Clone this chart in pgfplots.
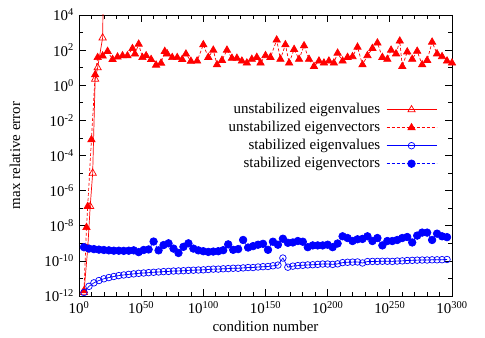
\documentclass[border=0pt]{standalone}
\usepackage{fontspec}
\setmainfont{Liberation Serif}
\usepackage{pgfplots}
\pgfplotsset{compat=1.18}

\begin{document}
\fontsize{15}{18}\selectfont
\begin{tikzpicture}
\path[use as bounding box] (-79bp,-42bp) rectangle (406bp,296bp);
\begin{axis}[
    scale only axis,
    width=373bp, height=281bp,
    xmode=log, ymode=log,
    xmin=1, xmax=1e300,
    ymin=1e-12, ymax=1e4,
    xtick={1,1e50,1e100,1e150,1e200,1e250,1e300},
    xticklabels={10\textsuperscript{0},10\textsuperscript{50},10\textsuperscript{100},10\textsuperscript{150},10\textsuperscript{200},10\textsuperscript{250},10\textsuperscript{300}},
    minor xtick={1e10,1e20,1e30,1e40,1e60,1e70,1e80,1e90,1e110,1e120,1e130,1e140,1e160,1e170,1e180,1e190,1e210,1e220,1e230,1e240,1e260,1e270,1e280,1e290},
    ytick={1e-12,1e-10,1e-8,1e-6,1e-4,1e-2,1,1e2,1e4},
    yticklabels={10\textsuperscript{-12},10\textsuperscript{-10},10\textsuperscript{-8},10\textsuperscript{-6},10\textsuperscript{-4},10\textsuperscript{-2},10\textsuperscript{0},10\textsuperscript{2},10\textsuperscript{4}},
    minor ytick={1e-11,1e-9,1e-7,1e-5,1e-3,1e-1,1e1,1e3},
    major tick length=7bp, minor tick length=4bp,
    tick style={black, line width=0.7bp},
    axis line style={line width=0.8bp},
    xlabel={condition number},
    ylabel={max relative error},
    every axis x label/.style={at={(axis description cs:0.5,-0.1068)}, anchor=center},
    every axis y label/.style={at={(axis description cs:-0.1716,0.5)}, anchor=center, rotate=90},
    legend style={draw=none, fill=none, at={(0.968,0.6975)}, anchor=north east,
        row sep=3bp, column sep=3bp,
        nodes={inner xsep=3bp, inner ysep=0bp, text height=11bp, text depth=4bp}},
    legend plot pos=right,
    legend cell align=right,
    legend image code/.code={\draw[mark repeat=2,mark phase=2] plot coordinates {(0bp,0bp) (25bp,0bp) (50bp,0bp)};},
]

% unstabilized eigenvalues
\addplot[red, line width=0.7bp, mark=triangle, mark size=4.2bp, mark options={solid, line width=0.7bp}] coordinates {
(1e4,1.58e-12) (1e7,5.01e-10) (1e9,1.26e-7) (1e11,1e-5) (1e13,2.24) (1e15,10) (1e19,501) (1e21,1e12)
};
\addlegendentry{unstabilized eigenvalues}

% unstabilized eigenvectors
\addplot[red, line width=0.7bp, dash pattern=on 3bp off 2bp, mark=triangle*, mark size=4.2bp, mark options={solid, fill=red}] coordinates {
(1e4,2.0e-12) (1e6,7.94e-9) (1e7,1.26e-7) (1e10,7.94e-4) (1e13,3.98) (1e15,38.0) (1e19,46.8)
(1e23,85.1) (1e27,29.5) (1e31,40.7) (1e35,47.9) (1e39,47.9) (1e43,123) (1e45,60.3) (1e48,219)
(1e51,38.0) (1e54,47.9) (1e58,29.5) (1e62,14.1) (1e66,18.2) (1e69,85.1) (1e71,60.3) (1e75,38.0)
(1e79,38.0) (1e83,29.5) (1e86,60.3) (1e90,23.4) (1e95,24.0) (1e100,204) (1e104,38.9) (1e108,100)
(1e111,14.8) (1e115,26.3) (1e119,100) (1e123,34.7) (1e127,34.7) (1e131,24.0) (1e135,18.6) (1e139,30.2)
(1e143,38.9) (1e146,18.6) (1e150,49.0) (1e154,38.9) (1e159,380) (1e162,30.2) (1e166,204) (1e169,18.6)
(1e173,110) (1e177,30.2) (1e181,178) (1e185,30.2) (1e189,11.7) (1e193,24.0) (1e197,18.6) (1e201,24.0)
(1e205,18.6) (1e208,67.6) (1e212,24.0) (1e216,38.9) (1e220,42.7) (1e224,148) (1e228,14.8) (1e232,49.0)
(1e236,126) (1e240,257) (1e244,38.9) (1e248,30.2) (1e251,100) (1e255,61.7) (1e258,331) (1e260,11.7)
(1e264,79.4) (1e268,30.2) (1e272,87.1) (1e276,14.8) (1e280,26.3) (1e284,288) (1e288,61.7) (1e292,42.7)
(1e296,24.0) (1e300,18.6)
};
\addlegendentry{unstabilized eigenvectors}

% stabilized eigenvalues
\addplot[blue, line width=0.7bp, mark=o, mark size=3.3bp, mark options={solid, line width=0.7bp}] coordinates {
(1e4,1.58e-12) (1e8,3.55e-12) (1e12,5.62e-12) (1e16,7.59e-12) (1e20,9.55e-12) (1e24,1.12e-11)
(1e28,1.29e-11) (1e32,1.45e-11) (1e36,1.58e-11) (1e40,1.70e-11) (1e44,1.82e-11) (1e48,1.95e-11)
(1e52,2.04e-11) (1e56,2.14e-11) (1e60,2.24e-11) (1e64,2.34e-11) (1e68,2.45e-11) (1e72,2.51e-11)
(1e76,2.63e-11) (1e80,2.69e-11) (1e84,2.75e-11) (1e88,2.88e-11) (1e92,2.95e-11) (1e96,3.02e-11)
(1e100,3.09e-11) (1e104,3.24e-11) (1e108,3.39e-11) (1e112,3.39e-11) (1e116,3.55e-11) (1e120,3.63e-11)
(1e124,3.80e-11) (1e128,3.80e-11) (1e132,3.98e-11) (1e136,4.17e-11) (1e140,4.17e-11) (1e144,4.47e-11)
(1e148,4.68e-11) (1e152,4.79e-11) (1e156,5.25e-11) (1e160,5.75e-11) (1e164,1.45e-10) (1e168,4.37e-11)
(1e172,5.01e-11) (1e176,5.37e-11) (1e180,5.62e-11) (1e184,5.89e-11) (1e188,6.03e-11) (1e192,6.31e-11)
(1e196,6.61e-11) (1e200,6.61e-11) (1e204,6.31e-11) (1e208,6.76e-11) (1e212,7.94e-11) (1e216,8.32e-11)
(1e220,8.51e-11) (1e224,8.71e-11) (1e228,7.59e-11) (1e232,9.12e-11) (1e236,9.33e-11) (1e240,9.33e-11)
(1e244,9.55e-11) (1e248,9.55e-11) (1e252,9.33e-11) (1e256,9.77e-11) (1e260,1.0e-10) (1e264,1.05e-10)
(1e268,1.07e-10) (1e272,1.10e-10) (1e276,1.12e-10) (1e280,1.12e-10) (1e284,1.15e-10) (1e288,1.15e-10)
(1e292,1.17e-10) (1e296,1.20e-10)
};
\addlegendentry{stabilized eigenvalues}

% stabilized eigenvectors
\addplot[blue, line width=0.7bp, dash pattern=on 3bp off 2bp, mark=*, mark size=3.8bp, mark options={solid, fill=blue}] coordinates {
(1e4,6.03e-10) (1e8,5.01e-10) (1e12,4.68e-10) (1e16,4.37e-10) (1e20,4.17e-10) (1e24,3.98e-10)
(1e28,3.80e-10) (1e32,3.80e-10) (1e36,3.72e-10) (1e40,3.80e-10) (1e44,3.98e-10) (1e48,3.16e-10)
(1e52,4.17e-10) (1e56,4.47e-10) (1e60,1.26e-9) (1e64,3.98e-10) (1e68,7.94e-10) (1e72,1.0e-9)
(1e76,5.01e-10) (1e80,2.82e-10) (1e84,6.31e-10) (1e88,1.0e-9) (1e92,5.01e-10) (1e96,3.98e-10)
(1e100,3.55e-10) (1e104,3.24e-10) (1e108,3.39e-10) (1e112,3.55e-10) (1e116,4.07e-10) (1e120,8.71e-10)
(1e124,4.27e-10) (1e128,4.68e-10) (1e132,1.55e-9) (1e136,5.75e-10) (1e140,6.92e-10) (1e144,8.32e-10)
(1e148,9.33e-10) (1e152,4.27e-10) (1e156,1.23e-9) (1e160,8.32e-10) (1e164,1.82e-9) (1e168,1.07e-9)
(1e172,1.12e-9) (1e176,1.35e-9) (1e180,1.23e-9) (1e184,6.03e-10) (1e188,7.59e-10) (1e192,7.59e-10)
(1e196,7.59e-10) (1e200,8.32e-10) (1e204,6.03e-10) (1e208,9.77e-10) (1e212,2.51e-9) (1e216,2.0e-9)
(1e220,1.35e-9) (1e224,1.70e-9) (1e228,1.78e-9) (1e232,2.51e-9) (1e236,1.35e-9) (1e240,2.0e-9)
(1e244,7.59e-10) (1e248,1.35e-9) (1e252,1.35e-9) (1e256,1.55e-9) (1e260,2.0e-9) (1e264,2.29e-9)
(1e268,1.12e-9) (1e272,2.75e-9) (1e276,4.07e-9) (1e280,4.07e-9) (1e284,1.55e-9) (1e288,3.55e-9)
(1e292,2.51e-9) (1e296,2.24e-9)
};
\addlegendentry{stabilized eigenvectors}

\end{axis}
\end{tikzpicture}
\end{document}
